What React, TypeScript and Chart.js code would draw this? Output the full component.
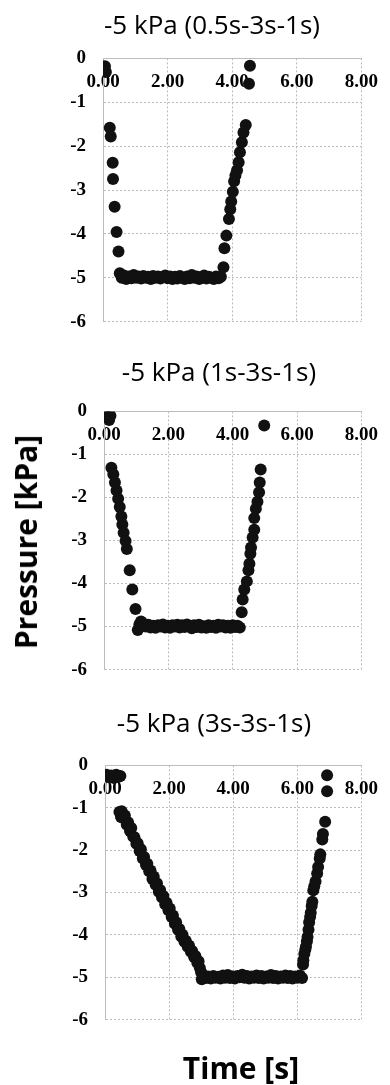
import React, { useEffect, useRef } from "react";
import { Chart, registerables } from "chart.js";

Chart.register(...registerables);

// ---------- data ----------
const titles = ["-5 kPa (0.5s-3s-1s)", "-5 kPa (1s-3s-1s)", "-5 kPa (3s-3s-1s)"];
const xTickValues = [0, 2, 4, 6, 8];
const yTickValues = [0, -1, -2, -3, -4, -5, -6];
const yAxisTitle = "Pressure [kPa]";
const xAxisTitle = "Time [s]";

// Panel 1: -5 kPa (0.5s-3s-1s)
const c1Time = [
  0.06, 0.09,
  0.21, 0.24, 0.30, 0.31, 0.36, 0.42, 0.48,
  0.52, 0.58, 0.65, 0.72, 0.80, 0.88, 0.95, 1.03, 1.10, 1.18, 1.25, 1.33, 1.40, 1.48, 1.55, 1.63,
  1.70, 1.78, 1.85, 1.93, 2.00, 2.08, 2.15, 2.23, 2.30, 2.38, 2.45, 2.53, 2.60, 2.68, 2.75, 2.83,
  2.90, 2.98, 3.05, 3.13, 3.20, 3.28, 3.35, 3.43, 3.50, 3.58, 3.65,
  3.73, 3.76, 3.82, 3.90, 3.94, 3.97, 4.02, 4.06, 4.10, 4.15, 4.20, 4.24, 4.30, 4.35, 4.42,
  4.52, 4.55,
];
const c1Pressure = [
  -0.18, -0.31,
  -1.58, -1.78, -2.38, -2.75, -3.38, -3.96, -4.40,
  -4.90, -5.00, -4.95, -5.03, -4.97, -5.01, -4.94, -5.00, -4.97, -5.02, -4.96, -5.00, -4.98, -5.03, -4.96, -5.00,
  -4.97, -5.02, -4.98, -4.95, -5.01, -4.97, -5.03, -4.98, -5.02, -4.96, -5.00, -5.03, -4.97, -5.01, -4.94, -5.00,
  -4.97, -5.03, -4.99, -4.95, -5.02, -4.98, -5.00, -5.03, -4.97, -5.01, -4.98,
  -4.76, -4.33, -4.04, -3.66, -3.44, -3.26, -3.04, -2.80, -2.67, -2.55, -2.37, -2.14, -1.91, -1.69, -1.52,
  -0.58, -0.17,
];

// Panel 2: -5 kPa (1s-3s-1s)
const c2Time = [
  0.10, 0.16, 0.20,
  0.23, 0.29, 0.34, 0.39, 0.44, 0.49, 0.54, 0.57, 0.61, 0.67, 0.71, 0.80, 0.88, 0.98,
  1.05, 1.10, 1.15, 1.22, 1.30, 1.38, 1.45, 1.53, 1.60, 1.68, 1.75, 1.83, 1.90, 1.98, 2.05, 2.13,
  2.20, 2.28, 2.35, 2.43, 2.50, 2.58, 2.65, 2.73, 2.80, 2.88, 2.95, 3.03, 3.10, 3.18, 3.25, 3.33,
  3.40, 3.48, 3.55, 3.63, 3.70, 3.78, 3.85, 3.93, 4.00, 4.08, 4.15, 4.22,
  4.28, 4.31, 4.36, 4.44, 4.49, 4.52, 4.55, 4.57, 4.62, 4.67, 4.67, 4.72, 4.77, 4.82, 4.84, 4.87,
  4.98,
];
const c2Pressure = [
  -0.12, -0.20, -0.10,
  -1.31, -1.46, -1.65, -1.84, -2.03, -2.22, -2.44, -2.63, -2.82, -3.01, -3.20, -3.69, -4.14, -4.59,
  -5.08, -4.95, -4.88, -4.93, -5.00, -4.96, -5.02, -4.98, -5.03, -4.97, -5.00, -4.95, -5.02, -4.98, -5.03, -4.97,
  -5.00, -4.96, -5.02, -4.97, -5.01, -4.95, -5.00, -5.04, -4.97, -5.01, -4.96, -5.02, -4.99, -5.03, -4.97, -5.01,
  -4.98, -5.03, -4.96, -5.00, -4.97, -5.02, -4.98, -5.03, -4.97, -5.01, -4.98, -5.02,
  -4.67, -4.37, -4.14, -3.95, -3.69, -3.54, -3.31, -3.16, -2.93, -2.75, -2.48, -2.26, -2.10, -1.88, -1.65, -1.35,
  -0.33,
];

// Panel 3: -5 kPa (3s-3s-1s)
const c3Time = [
  0.05, 0.12, 0.20, 0.28, 0.35, 0.42, 0.48,
  0.45, 0.50, 0.52, 0.58, 0.62, 0.68, 0.72, 0.78, 0.82, 0.88, 0.92, 0.98, 1.02, 1.08, 1.12, 1.18,
  1.22, 1.28, 1.32, 1.38, 1.42, 1.48, 1.52, 1.58, 1.62, 1.68, 1.72, 1.78, 1.82, 1.88, 1.92, 1.98,
  2.02, 2.08, 2.12, 2.18, 2.22, 2.28, 2.32, 2.38, 2.42, 2.48, 2.52, 2.58, 2.62, 2.68, 2.72, 2.78,
  2.82, 2.88, 2.92, 2.96, 3.00,
  3.02, 3.08, 3.15, 3.22, 3.30, 3.38, 3.45, 3.53, 3.60, 3.68, 3.75, 3.83, 3.90, 3.98, 4.05, 4.13,
  4.20, 4.28, 4.35, 4.43, 4.50, 4.58, 4.65, 4.73, 4.80, 4.88, 4.95, 5.03, 5.10, 5.18, 5.25, 5.33,
  5.40, 5.48, 5.55, 5.63, 5.70, 5.78, 5.85, 5.93, 6.00, 6.08, 6.15,
  6.18, 6.19, 6.22, 6.25, 6.27, 6.30, 6.32, 6.35, 6.37, 6.40, 6.42, 6.45, 6.47, 6.50, 6.53, 6.57,
  6.62, 6.65, 6.70, 6.72, 6.78, 6.80, 6.87, 6.93, 6.93,
];
const c3Pressure = [
  -0.22, -0.28, -0.24, -0.30, -0.22, -0.27, -0.25,
  -1.10, -1.22, -1.08, -1.25, -1.18, -1.40, -1.34, -1.55, -1.48, -1.68, -1.70, -1.85, -1.84, -2.02, -1.98, -2.20,
  -2.16, -2.35, -2.32, -2.50, -2.48, -2.68, -2.62, -2.82, -2.78, -2.98, -2.94, -3.12, -3.08, -3.28, -3.24, -3.42,
  -3.38, -3.58, -3.54, -3.74, -3.70, -3.88, -3.86, -4.04, -4.00, -4.16, -4.14, -4.28, -4.25, -4.40, -4.38, -4.52,
  -4.50, -4.66, -4.62, -4.78, -4.88,
  -5.05, -4.96, -5.02, -4.98, -5.03, -4.97, -5.01, -4.99, -5.03, -4.96, -5.01, -4.95, -5.02, -4.98, -5.03, -4.97,
  -5.00, -4.94, -5.01, -4.97, -5.03, -4.98, -5.01, -4.96, -5.02, -4.97, -5.03, -4.98, -5.01, -4.95, -5.02, -4.97,
  -5.03, -4.98, -5.01, -4.96, -5.02, -4.97, -5.03, -4.98, -5.01, -4.96, -5.02,
  -4.70, -4.60, -4.45, -4.35, -4.28, -4.15, -4.05, -3.88, -3.70, -3.58, -3.48, -3.32, -3.22, -2.95, -2.85, -2.74,
  -2.55, -2.40, -2.20, -2.10, -1.75, -1.62, -1.33, -0.61, -0.23,
];

// ---------- layout (positions only) ----------
const panels = [
  { time: c1Time, pressure: c1Pressure, title: titles[0], canvasTop: 30, areaHeight: 270, left: 103, right: 368, titleX: 212, titleY: 24 },
  { time: c2Time, pressure: c2Pressure, title: titles[1], canvasTop: 383, areaHeight: 265, left: 104, right: 367, titleX: 219, titleY: 371 },
  { time: c3Time, pressure: c3Pressure, title: titles[2], canvasTop: 737, areaHeight: 261, left: 105, right: 372, titleX: 214, titleY: 722 },
];

const W = 390;
const PAD_TOP = 24;
const PAD_BOTTOM = 26;
const GRID = "#bcbcbc";
const tickFont = { family: '"Liberation Serif", "DejaVu Serif", serif', size: 19, weight: "bold" as const };

function Panel(props: { time: number[]; pressure: number[]; areaHeight: number; left: number; right: number; canvasTop: number }) {
  const ref = useRef<HTMLCanvasElement | null>(null);
  const height = props.areaHeight + PAD_TOP + PAD_BOTTOM;
  useEffect(() => {
    if (!ref.current) return;
    const pts = props.time.map((t, i) => ({ x: t, y: props.pressure[i] }));
    const chart = new Chart(ref.current, {
      type: "scatter",
      data: {
        datasets: [
          {
            data: pts,
            backgroundColor: "#111111",
            borderWidth: 0,
            pointRadius: 6,
            pointHoverRadius: 6,
          },
        ],
      },
      options: {
        animation: false,
        responsive: false,
        maintainAspectRatio: false,
        events: [],
        layout: { padding: { left: 0, right: W - props.right, top: PAD_TOP, bottom: PAD_BOTTOM } },
        plugins: { legend: { display: false }, tooltip: { enabled: false }, title: { display: false } },
        scales: {
          x: {
            type: "linear",
            position: { y: 0 } as any,
            min: 0,
            max: 8,
            afterBuildTicks: (s: any) => {
              s.ticks = xTickValues.map((v) => ({ value: v }));
            },
            grid: { color: GRID, lineWidth: 1, drawTicks: false },
            border: { display: true, color: GRID, width: 1, dash: [2, 2] },
            ticks: {
              padding: 12,
              font: tickFont,
              color: "#000",
              maxRotation: 0,
              autoSkip: false,
              callback: (v: any) => Number(v).toFixed(2),
            },
          },
          y: {
            type: "linear",
            position: "left",
            min: -6,
            max: 0,
            afterBuildTicks: (s: any) => {
              s.ticks = yTickValues.map((v) => ({ value: v }));
            },
            afterFit: (s: any) => {
              s.width = props.left;
            },
            grid: { color: GRID, lineWidth: 1, drawTicks: false },
            border: { display: true, color: GRID, width: 1, dash: [2, 2] },
            ticks: {
              padding: 17,
              font: tickFont,
              color: "#000",
              autoSkip: false,
              callback: (v: any) => String(v),
            },
          },
        },
      },
    });
    return () => chart.destroy();
  }, []);
  return (
    <canvas
      ref={ref}
      width={W}
      height={height}
      style={{ position: "absolute", left: 0, top: props.canvasTop, width: W, height, display: "block" }}
    />
  );
}

export default function App() {
  return (
    <div style={{ position: "absolute", left: 0, top: 0, width: W, height: 1085, background: "#fff", overflow: "hidden" }}>
      {panels.map((p, i) => (
        <React.Fragment key={i}>
          <Panel time={p.time} pressure={p.pressure} areaHeight={p.areaHeight} left={p.left} right={p.right} canvasTop={p.canvasTop} />
          <div
            style={{
              position: "absolute",
              left: p.titleX,
              top: p.titleY,
              transform: "translate(-50%, -50%)",
              whiteSpace: "nowrap",
              fontFamily: '"Open Sans", "Noto Sans", sans-serif',
              fontSize: 26,
              lineHeight: 1,
              color: "#000",
            }}
          >
            {p.title}
          </div>
        </React.Fragment>
      ))}
      <div
        style={{
          position: "absolute",
          left: 26,
          top: 542,
          transform: "translate(-50%, -50%) rotate(-90deg)",
          whiteSpace: "nowrap",
          fontFamily: '"Open Sans", "Noto Sans", sans-serif',
          fontWeight: 700,
          fontSize: 30,
          lineHeight: 1,
          color: "#000",
        }}
      >
        {yAxisTitle}
      </div>
      <div
        style={{
          position: "absolute",
          left: 241,
          top: 1068,
          transform: "translate(-50%, -50%)",
          whiteSpace: "nowrap",
          fontFamily: '"Open Sans", "Noto Sans", sans-serif',
          fontWeight: 700,
          fontSize: 30,
          lineHeight: 1,
          color: "#000",
        }}
      >
        {xAxisTitle}
      </div>
    </div>
  );
}
